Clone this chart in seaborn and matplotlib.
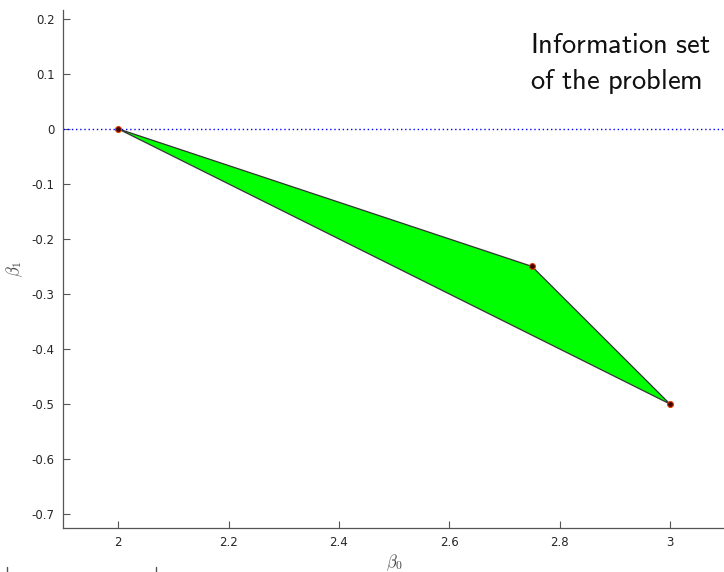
import matplotlib
matplotlib.use("Agg")
import matplotlib.pyplot as plt
import seaborn as sns
import pandas as pd
from matplotlib.lines import Line2D
from matplotlib.ticker import FuncFormatter

sns.set_style("white")
plt.rcParams['font.family'] = ['DejaVu Sans']
plt.rcParams['mathtext.fontset'] = 'cm'
plt.rcParams['xtick.bottom'] = True
plt.rcParams['ytick.left'] = True

# Data
beta0 = [2.0, 2.75, 3.0]
beta1 = [0.0, -0.25, -0.5]
xticks = [2, 2.2, 2.4, 2.6, 2.8, 3]
yticks = [0.2, 0.1, 0, -0.1, -0.2, -0.3, -0.4, -0.5, -0.6, -0.7]
zero_x = [1.9, 3.1]
zero_y = [0.0, 0.0]

fig = plt.figure(figsize=(7.24, 5.72), dpi=100)
ax = fig.add_axes([63/724, (572-528)/572, (725-63)/724, (528-10)/572])

# zero line
sns.lineplot(x=zero_x, y=zero_y, ax=ax, color='#0000ff', linestyle=(0, (1, 2)), lw=1.0, zorder=1)

# polygon
ax.fill(beta0, beta1, facecolor='#00ff00', edgecolor='#333333', lw=0.9, zorder=2)

# vertices
df = pd.DataFrame({'b0': beta0, 'b1': beta1})
sns.scatterplot(data=df, x='b0', y='b1', ax=ax, s=18, color='#400000',
                edgecolor='#e04000', linewidth=0.8, zorder=3)

ax.set_xlim(1.9, 3.1)
ax.set_ylim(-0.7255, 0.216)
ax.set_xticks(xticks)
ax.set_yticks(yticks)
fmt = FuncFormatter(lambda v, p: ('%g' % round(v, 3)).replace('\u2212', '-'))
ax.xaxis.set_major_formatter(fmt)
ax.yaxis.set_major_formatter(fmt)
ax.tick_params(direction='in', length=5, width=0.8, color='#555555',
               labelsize=8.5, labelcolor='#262626', pad=6)

for s in ['top', 'right']:
    ax.spines[s].set_visible(False)
for s in ['left', 'bottom']:
    ax.spines[s].set_color('#555555')
    ax.spines[s].set_linewidth(0.9)

ax.set_xlabel(r'$\beta_0$', fontsize=12, color='#444444', labelpad=2)
ax.set_ylabel(r'$\beta_1$', fontsize=12, color='#444444', labelpad=5)

ax.text(2.7465, 0.138, r'$\mathsf{Information\ set}$', ha='left', va='baseline',
        fontsize=20.5, color='#111111')
ax.text(2.7465, 0.073, r'$\mathsf{of\ the\ problem}$', ha='left', va='baseline',
        fontsize=20.5, color='#111111')

# small marks at the bottom edge
for px in [7, 156]:
    fig.add_artist(Line2D([px/724, px/724], [0, 5/572], transform=fig.transFigure,
                          color='#555555', lw=1))

fig.savefig('out.png', dpi=100)
